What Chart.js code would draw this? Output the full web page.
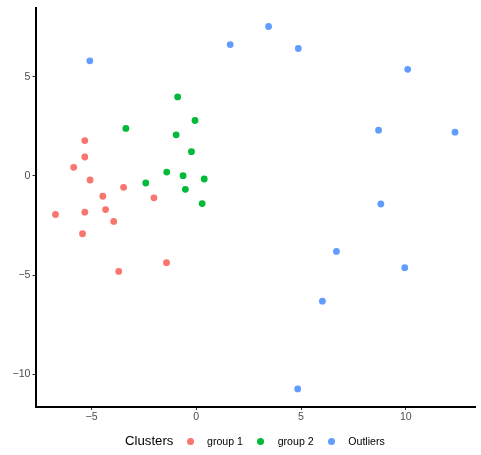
<!DOCTYPE html>
<html>
<head>
<meta charset="utf-8">
<script src="https://cdn.jsdelivr.net/npm/chart.js@4"></script>
<style>
  html, body { margin: 0; padding: 0; background: #fff; }
  #wrap { position: relative; width: 481px; height: 455px; }
  #legend { position: absolute; left: 0; top: 432px; width: 481px; height: 18px;
            font-family: "Liberation Sans", Arial, sans-serif; color: #000; }
  #legend span { position: absolute; top: 0; line-height: 18px; white-space: nowrap; }
  #legend .title { font-size: 13.2px; }
  #legend .lab { font-size: 10.6px; }
  #legend .dot { width: 7px; height: 7px; border-radius: 50%; top: 5.5px; }
</style>
</head>
<body>
<div id="wrap">
  <canvas id="c" width="481" height="455"></canvas>
  <div id="legend"></div>
</div>
<script>
const seriesNames = ['group 1', 'group 2', 'Outliers'];
const seriesColors = ['#F8766D', '#00BA38', '#619CFF'];

const group1X = [-5.32, -5.32, -5.85, -5.07, -3.47, -4.46, -2.02, -6.72, -5.32, -4.33, -3.94, -5.43, -1.42, -3.70];
const group1Y = [1.78, 0.95, 0.43, -0.21, -0.58, -1.03, -1.11, -1.95, -1.83, -1.70, -2.30, -2.92, -4.38, -4.82];

const group2X = [-0.89, -0.06, -3.36, -0.96, -0.23, -1.41, -0.63, 0.38, -2.41, -0.52, 0.28];
const group2Y = [3.98, 2.79, 2.39, 2.07, 1.22, 0.19, 0.01, -0.16, -0.36, -0.68, -1.40];

const outlierX = [-5.08, 1.62, 3.45, 4.87, 10.09, 8.70, 12.35, 8.81, 6.69, 9.95, 6.02, 4.84];
const outlierY = [5.80, 6.62, 7.53, 6.42, 5.37, 2.30, 2.20, -1.42, -3.81, -4.63, -6.32, -10.74];

const xTicks = [-5, 0, 5, 10];
const yTicks = [-10, -5, 0, 5];

const allX = [group1X, group2X, outlierX];
const allY = [group1Y, group2Y, outlierY];

// ggplot-style 5% padding around the data range
function padRange(lists) {
  const v = lists.flat();
  const lo = Math.min(...v), hi = Math.max(...v);
  const d = (hi - lo) * 0.05;
  return [lo - d, hi + d];
}
const [xMin, xMax] = padRange(allX);
const [yMin, yMax] = padRange(allY);

const fmt = v => (v < 0 ? '\u2212' + Math.abs(v) : String(v));
const font = { family: '"Liberation Sans", Arial, sans-serif', size: 10.6 };

const datasets = seriesNames.map((name, i) => ({
  label: name,
  data: allX[i].map((x, j) => ({ x: x, y: allY[i][j] })),
  backgroundColor: seriesColors[i],
  borderWidth: 0,
  pointRadius: 3.4,
  pointHoverRadius: 3.4
}));

function axis(min, max, ticks, size, isY) {
  return {
    type: 'linear',
    min: min,
    max: max,
    afterBuildTicks: a => { a.ticks = ticks.map(v => ({ value: v })); },
    afterFit: a => { if (isY) a.width = size; else a.height = size; },
    grid: { display: true, drawOnChartArea: false, drawTicks: true, tickLength: 3, tickColor: '#333', tickWidth: 1 },
    border: { display: true, color: '#000', width: 2 },
    ticks: { color: '#4D4D4D', font: font, padding: isY ? 2 : 1, maxRotation: 0, autoSkip: false,
             callback: v => fmt(v) }
  };
}

new Chart(document.getElementById('c'), {
  type: 'scatter',
  data: { datasets: datasets },
  options: {
    responsive: false,
    animation: false,
    layout: { padding: { top: 5, right: 6, bottom: 0, left: 0 } },
    plugins: { legend: { display: false }, tooltip: { enabled: false } },
    scales: {
      x: axis(xMin, xMax, xTicks, 48, false),
      y: axis(yMin, yMax, yTicks, 35.5, true)
    }
  }
});

// legend row under the plot
const legend = document.getElementById('legend');
const items = [
  { cls: 'title', text: 'Clusters', left: 125 },
  { dot: 0, left: 186.8 }, { cls: 'lab', text: seriesNames[0], left: 207 },
  { dot: 1, left: 257.2 }, { cls: 'lab', text: seriesNames[1], left: 277.7 },
  { dot: 2, left: 327.8 }, { cls: 'lab', text: seriesNames[2], left: 348.3 }
];
items.forEach(it => {
  const s = document.createElement('span');
  if (it.dot !== undefined) {
    s.className = 'dot';
    s.style.background = seriesColors[it.dot];
  } else {
    s.className = it.cls;
    s.textContent = it.text;
  }
  s.style.left = it.left + 'px';
  legend.appendChild(s);
});
</script>
</body>
</html>
